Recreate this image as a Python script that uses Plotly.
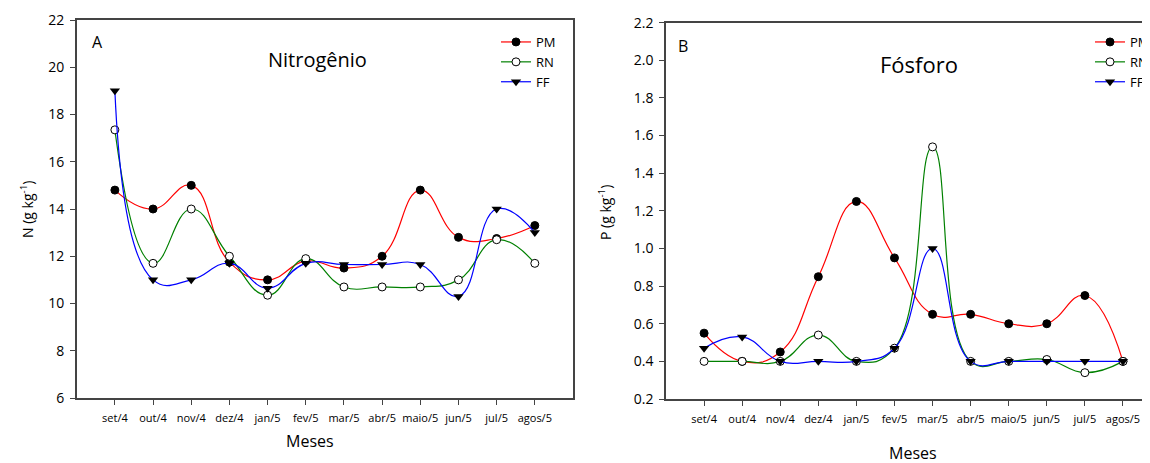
import plotly.graph_objects as go

meses = ["set/4", "out/4", "nov/4", "dez/4", "jan/5", "fev/5", "mar/5", "abr/5", "maio/5", "jun/5", "jul/5", "agos/5"]

# Nitrogênio (g kg-1)
n_pm = [14.8, 14.0, 15.0, 11.75, 11.0, 11.8, 11.5, 12.0, 14.8, 12.8, 12.75, 13.3]
n_rn = [17.35, 11.7, 14.0, 12.0, 10.35, 11.9, 10.7, 10.7, 10.7, 11.0, 12.7, 11.7]
n_ff = [19.0, 11.0, 11.0, 11.7, 10.65, 11.7, 11.65, 11.65, 11.65, 10.3, 14.0, 13.0]

# Fósforo (g kg-1)
p_pm = [0.55, 0.40, 0.45, 0.85, 1.25, 0.95, 0.65, 0.65, 0.60, 0.60, 0.75, 0.40]
p_rn = [0.40, 0.40, 0.40, 0.54, 0.40, 0.47, 1.54, 0.40, 0.40, 0.41, 0.34, 0.40]
p_ff = [0.47, 0.53, 0.40, 0.40, 0.40, 0.47, 1.00, 0.40, 0.40, 0.40, 0.40, 0.40]

series = [
    ("PM", "#ff0000", dict(symbol="circle", color="black", size=8, line=dict(color="black", width=1))),
    ("RN", "#008000", dict(symbol="circle", color="white", size=8, line=dict(color="black", width=1))),
    ("FF", "#0000ff", dict(symbol="triangle-down", color="black", size=9, line=dict(color="black", width=0))),
]

FONT = "Open Sans"
AX = "#444444"

fig = go.Figure()
for (name, col, mk), yv in zip(series, [n_pm, n_rn, n_ff]):
    fig.add_trace(go.Scatter(x=meses, y=yv, name=name, mode="lines+markers",
                             line=dict(color=col, width=1.2, shape="spline", smoothing=1.3),
                             marker=mk, xaxis="x", yaxis="y", legend="legend"))
for (name, col, mk), yv in zip(series, [p_pm, p_rn, p_ff]):
    fig.add_trace(go.Scatter(x=meses, y=yv, name=name, mode="lines+markers",
                             line=dict(color=col, width=1.2, shape="spline", smoothing=1.3),
                             marker=mk, xaxis="x2", yaxis="y2", legend="legend2"))

# page body has an 8px margin; map screen pixel coordinates to paper fractions
OFF = 8
W, H = 1150 - OFF, 463 - OFF
def px(x):
    return (x - OFF) / W
def py(y):
    return 1 - (y - OFF) / H

xcommon = dict(type="category", categoryorder="array", categoryarray=meses,
               showgrid=False, zeroline=False, showline=True, linecolor=AX, linewidth=1.5,
               ticks="outside", ticklen=5, tickcolor=AX, tickwidth=1,
               tickfont=dict(family=FONT, size=11, color="black"), ticklabelstandoff=4)
ycommon = dict(showgrid=False, zeroline=False, showline=True, linecolor=AX, linewidth=1.5,
               ticks="outside", ticklen=5, tickcolor=AX, tickwidth=1,
               tickfont=dict(family=FONT, size=14, color="black"), ticklabelstandoff=3)

fig.update_layout(
    width=W, height=H,
    margin=dict(l=0, r=0, t=0, b=0, autoexpand=False),
    paper_bgcolor="white", plot_bgcolor="white",
    font=dict(family=FONT, color="black"),
    xaxis=dict(**xcommon, domain=[px(76.7), px(573)], range=[-1, 12], mirror=True, anchor="y"),
    yaxis=dict(**ycommon, domain=[py(398), py(20)], range=[6, 22], dtick=2, mirror=True, anchor="x"),
    xaxis2=dict(**xcommon, domain=[px(666), 1.0], range=[-1, 11.71], mirror=True, anchor="y2"),
    yaxis2=dict(**ycommon, domain=[py(399), py(22.7)], range=[0.2, 2.2], dtick=0.2,
                tickformat=".1f", mirror=False, anchor="x2"),
    legend=dict(x=px(496), y=py(27), xanchor="left", yanchor="top", bgcolor="rgba(0,0,0,0)",
                font=dict(family=FONT, size=13), tracegroupgap=0, itemwidth=30),
    legend2=dict(x=px(1090), y=py(27), xanchor="left", yanchor="top", bgcolor="rgba(0,0,0,0)",
                 font=dict(family=FONT, size=13), tracegroupgap=0, itemwidth=30),
    showlegend=True,
)

ann = [
    dict(text="A", x=px(90), y=py(42), xanchor="left", yanchor="middle", font=dict(size=16)),
    dict(text="Nitrogênio", x=px(317), y=py(59), xanchor="center", yanchor="middle", font=dict(size=20)),
    dict(text="B", x=px(676), y=py(46), xanchor="left", yanchor="middle", font=dict(size=16)),
    dict(text="Fósforo", x=px(919), y=py(64), xanchor="center", yanchor="middle", font=dict(size=22)),
    dict(text="Meses", x=px(310), y=py(441), xanchor="center", yanchor="middle", font=dict(size=16)),
    dict(text="Meses", x=px(913), y=py(453), xanchor="center", yanchor="middle", font=dict(size=16)),
    dict(text="N (g kg<sup>-1</sup>)", x=px(27), y=py(210), xanchor="center", yanchor="middle",
         textangle=-90, font=dict(size=14)),
    dict(text="P (g kg<sup>-1</sup>)", x=px(605), y=py(213), xanchor="center", yanchor="middle",
         textangle=-90, font=dict(size=14)),
]
for a in ann:
    a.update(xref="paper", yref="paper", showarrow=False)
    a["font"] = dict(family=FONT, color="black", **a["font"])
fig.update_layout(annotations=ann)

fig.write_html("out.html")
